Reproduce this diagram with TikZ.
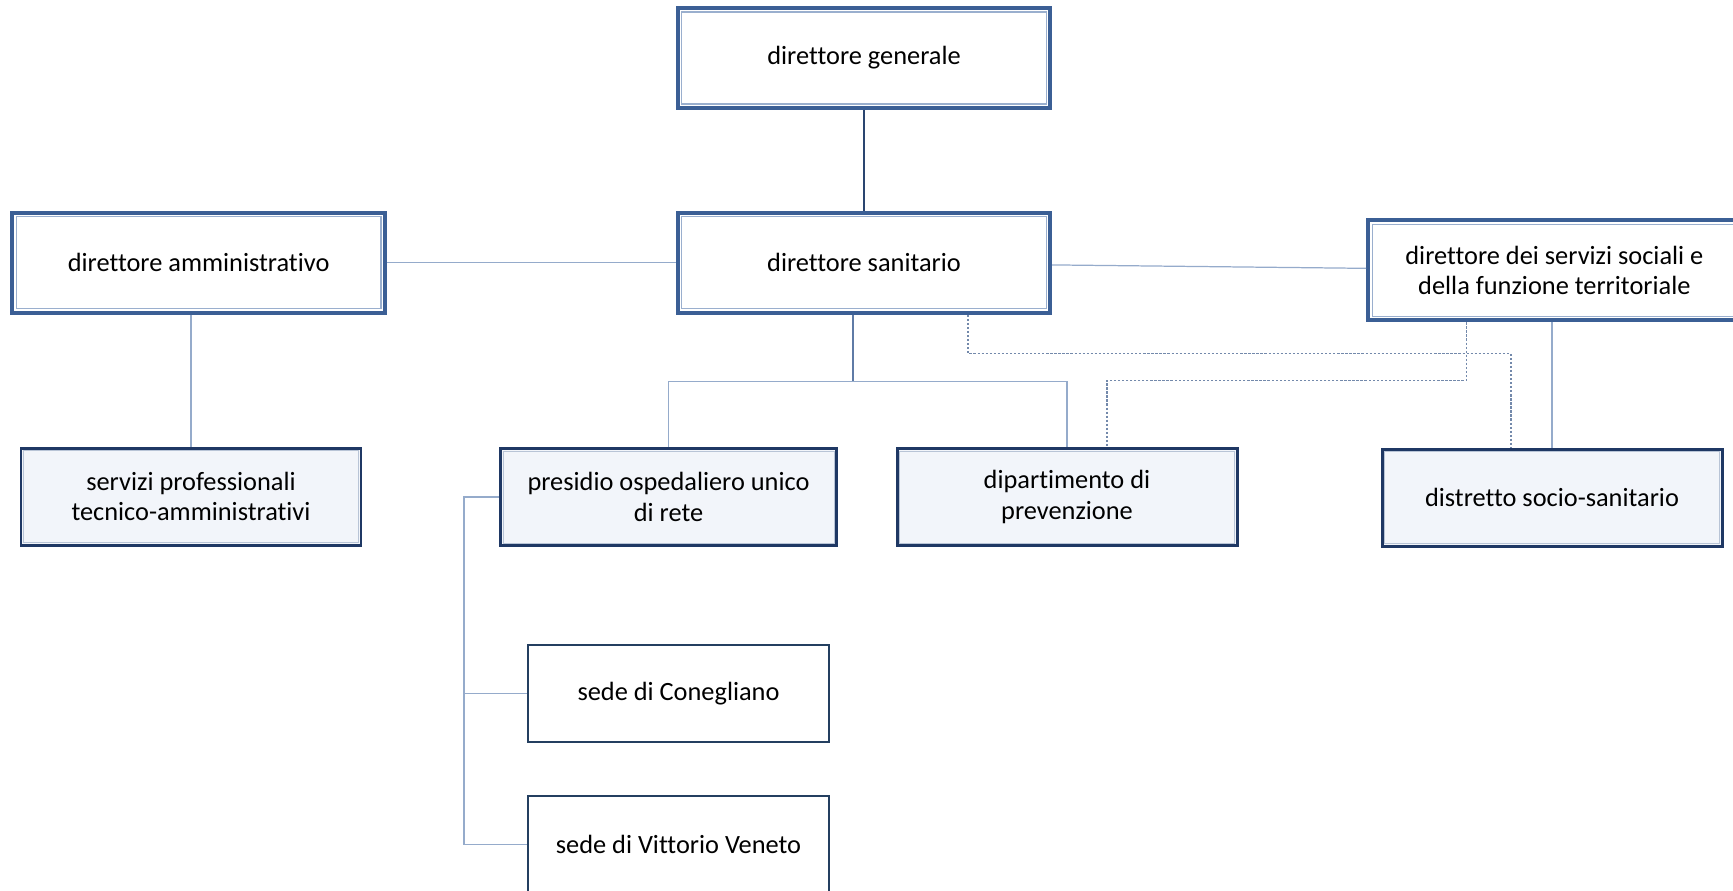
\documentclass[tikz,border=0pt]{standalone}
\usepackage{fontspec}
\setmainfont[Ligatures=NoCommon]{Carlito}
\usepackage{xcolor}
\usepackage{tikz}
\usetikzlibrary{positioning, calc}
\definecolor{topline}{HTML}{3B5F95}
\definecolor{topinner}{HTML}{9AAFCE}
\definecolor{unitline}{HTML}{1F3864}
\definecolor{unitbg}{HTML}{F2F5FA}
\definecolor{unitinner}{HTML}{B8C4D6}
\definecolor{sedeline}{HTML}{243F60}
\definecolor{linkc}{HTML}{95ABCB}
\definecolor{linkdark}{HTML}{2A4570}
\definecolor{linkmid}{HTML}{5F7BA6}
\definecolor{dotc}{HTML}{7389AB}
\tikzset{
    box/.style={rectangle, align=center, inner sep=2pt, text=black,
                font=\fontsize{15pt}{17.5pt}\selectfont},
    topbox/.style={box, draw=topline, line width=2.2pt, fill=white,
                   minimum width=7.45cm, minimum height=2cm,
                   path picture={\draw[topinner, line width=0.7pt]
                       ([shift={(0.08,0.08)}]path picture bounding box.south west) rectangle
                       ([shift={(-0.08,-0.08)}]path picture bounding box.north east);}},
    unitbox/.style={box, draw=unitline, line width=1.7pt, fill=unitbg,
                    minimum width=6.8cm, minimum height=1.94cm,
                    path picture={\draw[unitinner, line width=0.4pt]
                       ([shift={(0.05,0.05)}]path picture bounding box.south west) rectangle
                       ([shift={(-0.05,-0.05)}]path picture bounding box.north east);}},
    sedebox/.style={box, draw=sedeline, line width=1.1pt, fill=white,
                    minimum width=6.02cm, minimum height=1.94cm},
    link/.style={draw=linkc, line width=0.7pt},
    midlink/.style={draw=linkmid, line width=0.7pt},
    darklink/.style={draw=linkdark, line width=0.8pt},
    dotlink/.style={draw=dotc, line width=0.6pt, dash pattern=on 1.3pt off 1pt},
}

\begin{document}
\begin{tikzpicture}
  \useasboundingbox (0,0) rectangle (34.66,-17.8);

  % direzione
  \node[topbox] (dg) at (17.28,-1.16) {direttore generale};
  \node[topbox, below=2.02cm of dg] (ds) {direttore sanitario};
  \node[topbox, left=5.78cm of ds] (da) {direttore amministrativo};
  \node[topbox, right=6.28cm of ds, yshift=-0.15cm] (dss)
       {direttore dei servizi sociali e\\della funzione territoriale};

  % strutture
  \node[unitbox] (sp) at (3.82,-9.93) {servizi professionali\\tecnico-amministrativi};
  \node[unitbox, minimum width=6.72cm] (po) at (13.37,-9.94) {presidio ospedaliero unico\\di rete};
  \node[unitbox] (dp) at (21.34,-9.94) {dipartimento di\\prevenzione};
  \node[unitbox] (dsoc) at (31.04,-9.95) {distretto socio-sanitario};

  \node[sedebox, below=1.94cm of po, xshift=0.2cm] (sc) {sede di Conegliano};
  \node[sedebox, below=1.04cm of sc] (svv) {sede di Vittorio Veneto};

  \draw[darklink] (dg) -- (ds);
  \draw[link] (da) -- (ds);
  \draw[link] (ds) -- (dss);
  \draw[link] (sp.north) -- (sp.north |- da.south);
  \draw[link] (dsoc.north) -- (dsoc.north |- dss.south);

  \draw[midlink] ([xshift=-0.22cm]ds.south) -- ++(0,-1.34) coordinate (bus);
  \draw[link] (po.north) |- (bus) -| (dp.north);

  \draw[link] (po.west) -- ++(-0.7,0) coordinate (trunk) |- (svv.west);
  \draw[link] (trunk |- sc.west) -- (sc.west);

  \draw[dotlink] ([xshift=2.08cm]ds.south) -- ++(0,-0.78) -| ([xshift=-0.82cm]dsoc.north);
  \draw[dotlink] ([xshift=-1.76cm]dss.south) -- ++(0,-1.16) -| ([xshift=0.8cm]dp.north);

\end{tikzpicture}
\end{document}
